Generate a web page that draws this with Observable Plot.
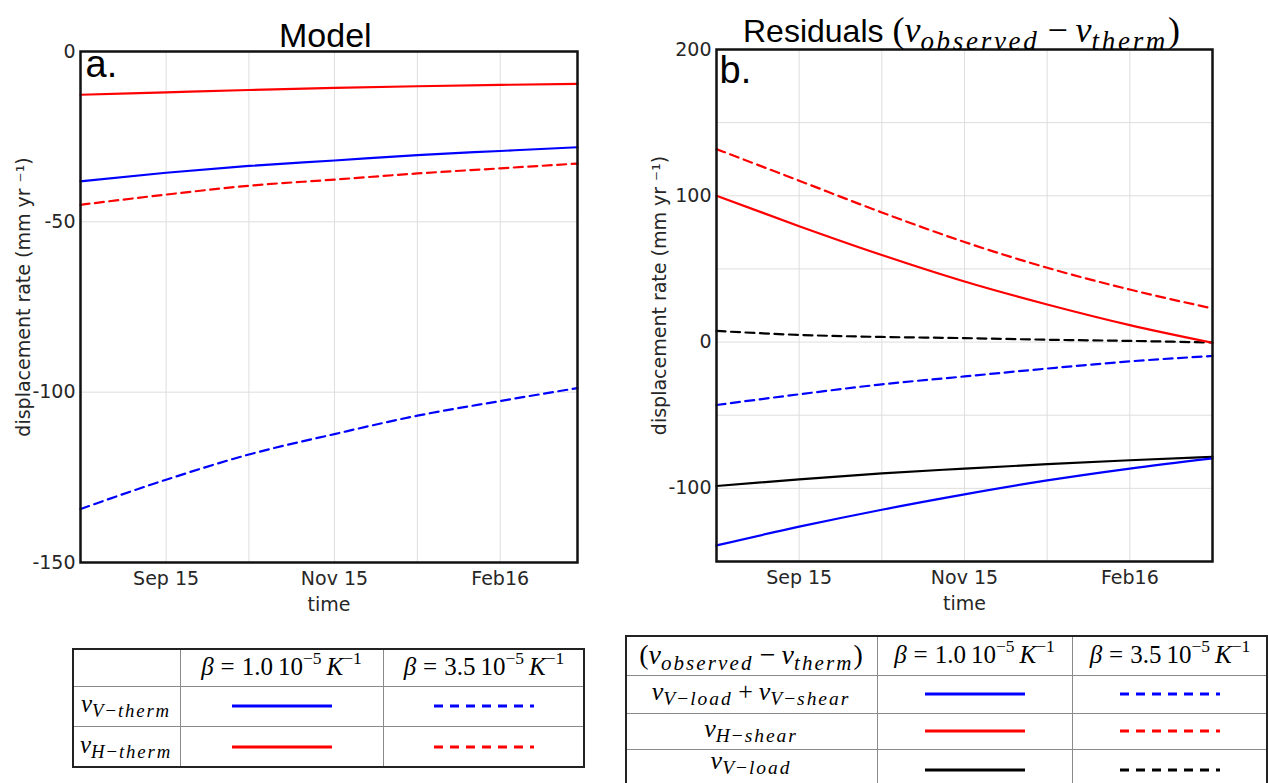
<!DOCTYPE html>
<html><head><meta charset="utf-8">
<script src="https://cdn.jsdelivr.net/npm/d3@7"></script>
<script src="https://cdn.jsdelivr.net/npm/@observablehq/plot@0.6"></script>
<style>
html,body{margin:0;padding:0;background:#fff;width:1269px;height:783px;overflow:hidden;}
#root{position:relative;width:1269px;height:783px;}
.abs{position:absolute;white-space:nowrap;line-height:1;}
.title{font-family:"Liberation Sans",Arial,sans-serif;font-size:33px;color:#000;}
.math{font-family:"Liberation Serif","Times New Roman",serif;color:#000;}
.math i{font-style:italic;}
.math sub,.math sup{line-height:0;position:relative;vertical-align:baseline;}
.math sub{font-size:75%;top:0.28em;letter-spacing:0.1em;}
.math sup{font-size:70%;top:-0.5em;}
.rel{margin:0 0.28em;}
.bin{margin:0 0.22em;}
.th{margin-left:0.2em;}
.cell{position:absolute;display:flex;align-items:center;justify-content:center;box-sizing:border-box;white-space:nowrap;}
.hl{position:absolute;height:1px;background:#8a8a8a;}
.vl{position:absolute;width:1px;background:#8a8a8a;}
.box{position:absolute;box-sizing:border-box;border:2px solid #222;}
.plot{position:absolute;top:0;}
</style></head><body><div id="root"></div>
<script>
// ---------------- data ----------------
// time axis (days from start of the record)
const timeA = [0, 31, 61, 92, 122, 152, 180];
const timeB = [0, 30, 60, 90, 120, 150, 180];

// x tick labels
const xTickLabels = ["Sep 15", "Nov 15", "Feb16"];
const xTicksA = [31, 92, 152];
const xGridA = [31, 61, 92, 122, 152];
const xTicksB = [30, 90, 150];
const xGridB = [30, 60, 90, 120, 150];

// y ticks
const yTicksA = [0, -50, -100, -150];
const yGridA = [-50, -100];
const yTicksB = [200, 100, 0, -100];
const yGridB = [150, 100, 50, 0, -50, -100];

// axis titles
const xTitle = "time";
const yTitle = "displacement rate (mm yr ⁻¹)";

// Panel a: Model (mm/yr)
const vVtherm_beta10 = [-38.1, -35.6, -33.6, -32.0, -30.4, -29.2, -28.1];
const vVtherm_beta35 = [-134.3, -125.7, -118.3, -112.3, -106.9, -102.6, -98.8];
const vHtherm_beta10 = [-12.7, -12.0, -11.3, -10.7, -10.2, -9.8, -9.5];
const vHtherm_beta35 = [-45.0, -42.0, -39.4, -37.6, -35.8, -34.3, -32.9];

// Panel b: Residuals (v_observed - v_therm) (mm/yr)
const vVloadShear_beta10 = [-139.0, -126.2, -114.6, -104.1, -94.6, -86.5, -79.5];
const vVloadShear_beta35 = [-43.0, -35.7, -28.9, -23.5, -18.1, -13.2, -9.5];
const vHshear_beta10 = [100.0, 79.2, 59.5, 41.4, 25.7, 11.6, -0.5];
const vHshear_beta35 = [131.9, 110.3, 88.6, 68.4, 50.8, 35.9, 23.0];
const vVload_beta10 = [-98.4, -93.8, -89.7, -86.5, -83.5, -80.8, -78.4];
const vVload_beta35 = [7.6, 4.9, 3.5, 2.7, 1.6, 0.8, -0.3];

// ---------------- styles ----------------
const BLUE = "#0000ff", RED = "#ff0000", BLACK = "#000000";
const DASH = "9,5.5";
const root = document.getElementById("root");

const seriesA = [
  {values: vVtherm_beta35, color: BLUE, dashed: true},
  {values: vHtherm_beta35, color: RED, dashed: true},
  {values: vVtherm_beta10, color: BLUE, dashed: false},
  {values: vHtherm_beta10, color: RED, dashed: false}
];
const seriesB = [
  {values: vVload_beta35, color: BLACK, dashed: true},
  {values: vVloadShear_beta35, color: BLUE, dashed: true},
  {values: vHshear_beta35, color: RED, dashed: true},
  {values: vVload_beta10, color: BLACK, dashed: false},
  {values: vVloadShear_beta10, color: BLUE, dashed: false},
  {values: vHshear_beta10, color: RED, dashed: false}
];

function panel({time, series, yDomain, yTicks, yGrid, xTicks, xGrid, margins, tag, tagDx, tagDy, left}) {
  const labelOf = new Map(xTicks.map((t, i) => [t, xTickLabels[i]]));
  const marks = [
    Plot.gridX(xGrid, {stroke: "#dedede", strokeOpacity: 1, strokeWidth: 1}),
    Plot.gridY(yGrid, {stroke: "#dedede", strokeOpacity: 1, strokeWidth: 1}),
    Plot.axisX(xTicks, {tickSize: 0, tickPadding: 9, tickFormat: d => labelOf.get(d),
      label: xTitle, labelAnchor: "center", labelArrow: "none", labelOffset: 48}),
    Plot.axisY(yTicks, {tickSize: 0, tickPadding: 5, tickFormat: d => String(d), label: null}),
    Plot.text([yTitle], {text: d => d, frameAnchor: "left", rotate: -90, textAnchor: "middle",
      lineAnchor: "top", dx: -64, dy: -10, fill: "currentColor"})
  ];
  for (const s of series) {
    marks.push(Plot.line(time.map((t, i) => ({t, v: s.values[i]})), {
      x: "t", y: "v", stroke: s.color, strokeWidth: 2.2,
      strokeDasharray: s.dashed ? DASH : null, curve: "monotone-x"
    }));
  }
  marks.push(Plot.frame({stroke: "#111", strokeWidth: 2.5}));
  marks.push(Plot.text([tag], {text: d => d, frameAnchor: "top-left", lineAnchor: "top", textAnchor: "start",
    dx: tagDx, dy: tagDy, fontSize: 38, fontFamily: "Liberation Sans, Arial, sans-serif", fill: "#000"}));
  const svg = Plot.plot({
    width: 600, height: 625,
    marginLeft: margins[0], marginRight: margins[1], marginTop: margins[2], marginBottom: margins[3],
    style: {fontFamily: "DejaVu Sans, sans-serif", fontSize: "19px", color: "#262626", background: "transparent", overflow: "visible"},
    x: {domain: [0, 180]},
    y: {domain: yDomain},
    marks
  });
  svg.classList.add("plot");
  svg.style.left = left + "px";
  root.appendChild(svg);
}

panel({time: timeA, series: seriesA, yDomain: [-150, 0], yTicks: yTicksA, yGrid: yGridA,
  xTicks: xTicksA, xGrid: xGridA, margins: [80, 23, 51, 63], tag: "a.", tagDx: 5, tagDy: -1, left: 0});
panel({time: timeB, series: seriesB, yDomain: [-150, 200], yTicks: yTicksB, yGrid: yGridB,
  xTicks: xTicksB, xGrid: xGridB, margins: [80, 24, 49, 64], tag: "b.", tagDx: 3, tagDy: 7, left: 636});

// ---------------- math snippets ----------------
const mV = (a, b) => `<i>v</i><sub><i>${a}</i>−<i>${b}</i></sub>`;
const residExpr = `(<i>v</i><sub><i>observed</i></sub><span class="bin">−</span><i>v</i><sub><i>therm</i></sub>)`;
const betaLbl = b => `<i>β</i><span class="rel">=</span>${b}<span class="th"></span>10<sup>−5</sup><span class="th"></span><i>K</i><sup>−1</sup>`;
const swatch = (color, dashed) =>
  `<svg width="100" height="6" style="display:block"><line x1="0" x2="100" y1="3" y2="3" stroke="${color}" stroke-width="3" ${dashed ? 'stroke-dasharray="9,7"' : ""}/></svg>`;

// ---------------- titles ----------------
function addDiv(cls, html, left, top, extra) {
  const d = document.createElement("div");
  d.className = "abs " + cls;
  d.innerHTML = html;
  d.style.left = left + "px";
  d.style.top = top + "px";
  if (extra) Object.assign(d.style, extra);
  root.appendChild(d);
  return d;
}
addDiv("title", "Model", 279, 18, {fontSize: "34px"});
addDiv("title", `Residuals <span class="math" style="font-size:36px;">${residExpr}</span>`, 743, 12, {fontSize: "32px"});

// ---------------- tables ----------------
function table({cols, rows, cells, fontSize}) {
  const x0 = cols[0], x1 = cols[cols.length - 1], y0 = rows[0], y1 = rows[rows.length - 1];
  for (let r = 1; r < rows.length - 1; r++) {
    const h = document.createElement("div"); h.className = "hl";
    Object.assign(h.style, {left: x0 + "px", top: rows[r] + "px", width: (x1 - x0) + "px"});
    root.appendChild(h);
  }
  for (let c = 1; c < cols.length - 1; c++) {
    const v = document.createElement("div"); v.className = "vl";
    Object.assign(v.style, {left: cols[c] + "px", top: y0 + "px", height: (y1 - y0) + "px"});
    root.appendChild(v);
  }
  const b = document.createElement("div"); b.className = "box";
  Object.assign(b.style, {left: x0 + "px", top: y0 + "px", width: (x1 - x0) + "px", height: (y1 - y0) + "px"});
  root.appendChild(b);
  cells.forEach((row, r) => row.forEach((html, c) => {
    const d = document.createElement("div"); d.className = "cell math";
    Object.assign(d.style, {left: cols[c] + "px", top: rows[r] + "px",
      width: (cols[c + 1] - cols[c]) + "px", height: (rows[r + 1] - rows[r]) + "px", fontSize: fontSize + "px"});
    d.innerHTML = html;
    root.appendChild(d);
  }));
}

const big = (html, px, dy) => `<span style="font-size:${px}px;position:relative;top:${dy || 0}px">${html}</span>`;

table({
  cols: [72, 180, 383, 585], rows: [648, 686, 726, 768], fontSize: 25,
  cells: [
    ["", betaLbl("1.0"), betaLbl("3.5")],
    [big(mV("V", "therm"), 25, -2), swatch(BLUE, false), swatch(BLUE, true)],
    [big(mV("H", "therm"), 25, -2), swatch(RED, false), swatch(RED, true)]
  ]
});
table({
  cols: [625, 877, 1072, 1268], rows: [635, 675, 713, 749, 790], fontSize: 25,
  cells: [
    [big(residExpr, 28, 0), betaLbl("1.0"), betaLbl("3.5")],
    [big(mV("V", "load") + `<span class="bin">+</span>` + mV("V", "shear"), 26, -2), swatch(BLUE, false), swatch(BLUE, true)],
    [big(mV("H", "shear"), 26, -2), swatch(RED, false), swatch(RED, true)],
    [big(mV("V", "load"), 26, -9), swatch(BLACK, false), swatch(BLACK, true)]
  ]
});
</script></body></html>
